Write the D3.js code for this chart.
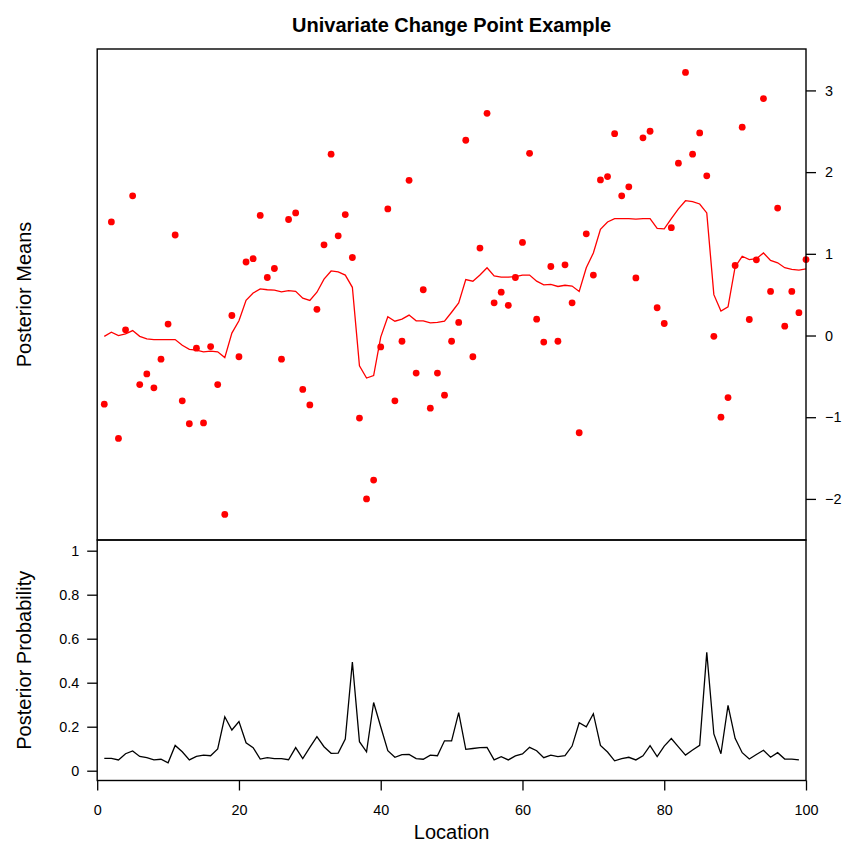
<!DOCTYPE html>
<html>
<head>
<meta charset="utf-8">
<script src="https://cdn.jsdelivr.net/npm/d3@7"></script>
<style>
    body { margin: 0; background: #fff; }
    text { font-family: "Liberation Sans", Arial, Helvetica, sans-serif; fill: #000; }
</style>
</head>
<body>
<svg id="chart" width="855" height="855"></svg>
<script>
'use strict';

// Observed values, one per location 1..100
const observed = [
    -0.84, 1.39, -1.26, 0.07, 1.71, -0.60, -0.47, -0.64, -0.29, 0.14,
    1.23, -0.80, -1.08, -0.155, -1.07, -0.135, -0.60, -2.19, 0.245, -0.26,
    0.90, 0.94, 1.47, 0.71, 0.82, -0.29, 1.42, 1.50, -0.66, -0.85,
    0.32, 1.11, 2.22, 1.22, 1.48, 0.955, -1.01, -2.00, -1.77, -0.14,
    1.55, -0.80, -0.07, 1.90, -0.46, 0.56, -0.89, -0.46, -0.73, -0.07,
    0.16, 2.39, -0.26, 1.07, 2.72, 0.40, 0.53, 0.37, 0.71, 1.14,
    2.23, 0.20, -0.08, 0.845, -0.07, 0.865, 0.40, -1.19, 1.245, 0.74,
    1.905, 1.945, 2.47, 1.71, 1.82, 0.705, 2.42, 2.50, 0.34, 0.147,
    1.32, 2.11, 3.22, 2.22, 2.48, 1.955, -0.01, -1.00, -0.76, 0.857,
    2.55, 0.196, 0.926, 2.90, 0.54, 1.56, 0.114, 0.54, 0.28, 0.93
];

// Posterior means, one per location 1..100
const postMeans = [
    -0.01, 0.04, 0.00, 0.02, 0.06, -0.01, -0.04, -0.05, -0.05, -0.05,
    -0.05, -0.12, -0.17, -0.18, -0.20, -0.19, -0.20, -0.27, 0.03, 0.18,
    0.43, 0.52, 0.57, 0.56, 0.555, 0.534, 0.55, 0.54, 0.457, 0.43,
    0.53, 0.69, 0.79, 0.78, 0.74, 0.59, -0.37, -0.52, -0.49, -0.02,
    0.23, 0.175, 0.20, 0.25, 0.18, 0.18, 0.155, 0.16, 0.175, 0.285,
    0.40, 0.685, 0.665, 0.74, 0.83, 0.73, 0.715, 0.715, 0.72, 0.74,
    0.74, 0.665, 0.62, 0.625, 0.60, 0.615, 0.605, 0.54, 0.83, 1.01,
    1.30, 1.39, 1.43, 1.43, 1.43, 1.425, 1.43, 1.43, 1.31, 1.305,
    1.43, 1.55, 1.65, 1.64, 1.61, 1.50, 0.50, 0.30, 0.35, 0.84,
    0.97, 0.93, 0.94, 1.01, 0.92, 0.89, 0.83, 0.81, 0.80, 0.815
];

// Posterior probability of a change, locations 1..99
const postProbs = [
    0.056, 0.056, 0.049, 0.077, 0.090, 0.065, 0.059, 0.049, 0.052, 0.036,
    0.115, 0.086, 0.049, 0.065, 0.071, 0.068, 0.099, 0.245, 0.185, 0.223,
    0.127, 0.105, 0.053, 0.059, 0.055, 0.055, 0.050, 0.105, 0.055, 0.106,
    0.155, 0.109, 0.079, 0.080, 0.144, 0.494, 0.132, 0.086, 0.310, 0.200,
    0.091, 0.061, 0.073, 0.074, 0.055, 0.052, 0.071, 0.068, 0.136, 0.136,
    0.264, 0.097, 0.101, 0.105, 0.106, 0.049, 0.064, 0.049, 0.067, 0.076,
    0.106, 0.091, 0.059, 0.071, 0.064, 0.068, 0.112, 0.218, 0.199, 0.259,
    0.115, 0.085, 0.045, 0.055, 0.061, 0.049, 0.068, 0.114, 0.064, 0.112,
    0.146, 0.108, 0.071, 0.094, 0.115, 0.538, 0.167, 0.077, 0.297, 0.147,
    0.082, 0.053, 0.074, 0.093, 0.061, 0.082, 0.053, 0.053, 0.049
];

// Tick values
const meanTicks = [-2, -1, 0, 1, 2, 3];
const probTicks = [0, 0.2, 0.4, 0.6, 0.8, 1];
const probTickLabels = ['0', '0.2', '0.4', '0.6', '0.8', '1'];
const locTicks = [0, 20, 40, 60, 80, 100];

(function () {

    const svg = d3.select('#chart');

    // Panel geometry
    const left = 97.2, right = 806;
    const topY0 = 49, topY1 = 540;
    const botY0 = 540, botY1 = 780.5;

    // Scales
    const scX = d3.scaleLinear().domain([0, 100]).range([left, right]);
    const scMean = d3.scaleLinear().domain([-2.503, 3.507]).range([topY1, topY0]);
    const scProb = d3.scaleLinear().domain([-0.0445, 1.0486]).range([botY1, botY0]);

    // Title
    svg.append('text')
        .attr('x', 451.6)
        .attr('y', 31.5)
        .attr('text-anchor', 'middle')
        .style('font-size', '20px')
        .style('font-weight', 'bold')
        .text('Univariate Change Point Example');

    // ---- Top panel ----
    const meanLine = d3.line()
        .x((d, i) => scX(i + 1))
        .y((d) => scMean(d));

    svg.append('path')
        .datum(postMeans)
        .attr('d', meanLine)
        .attr('fill', 'none')
        .attr('stroke', '#ff0000')
        .attr('stroke-width', 1.3);

    svg.selectAll('.dot')
        .data(observed)
        .enter()
        .append('circle')
            .attr('class', 'dot')
            .attr('cx', (d, i) => scX(i + 1))
            .attr('cy', (d) => scMean(d))
            .attr('r', 3.4)
            .style('fill', '#ff0000');

    // Right axis
    const rightAxis = svg.append('g')
        .attr('transform', `translate(${right}, 0)`)
        .call(d3.axisRight(scMean)
            .tickValues(meanTicks)
            .tickFormat(d3.format('d'))
            .tickSize(10)
            .tickPadding(9));
    rightAxis.select('.domain').remove();

    svg.append('text')
        .attr('transform', `translate(31, ${(topY0 + topY1) / 2}) rotate(-90)`)
        .attr('text-anchor', 'middle')
        .style('font-size', '20px')
        .text('Posterior Means');

    // ---- Bottom panel ----
    const probLine = d3.line()
        .x((d, i) => scX(i + 1))
        .y((d) => scProb(d));

    svg.append('path')
        .datum(postProbs)
        .attr('d', probLine)
        .attr('fill', 'none')
        .attr('stroke', '#000')
        .attr('stroke-width', 1.3);

    const leftAxis = svg.append('g')
        .attr('transform', `translate(${left}, 0)`)
        .call(d3.axisLeft(scProb)
            .tickValues(probTicks)
            .tickFormat((d, i) => probTickLabels[i])
            .tickSize(10)
            .tickPadding(8));
    leftAxis.select('.domain').remove();

    const bottomAxis = svg.append('g')
        .attr('transform', `translate(0, ${botY1})`)
        .call(d3.axisBottom(scX)
            .tickValues(locTicks)
            .tickSize(10)
            .tickPadding(14));
    bottomAxis.select('.domain').remove();

    svg.selectAll('.tick text')
        .style('font-size', '14.4px')
        .style('font-family', '"Liberation Sans", Arial, Helvetica, sans-serif');
    svg.selectAll('.tick line')
        .attr('stroke', '#000')
        .attr('stroke-width', 1.3);

    svg.append('text')
        .attr('transform', `translate(31, ${(botY0 + botY1) / 2}) rotate(-90)`)
        .attr('text-anchor', 'middle')
        .style('font-size', '20px')
        .text('Posterior Probability');

    svg.append('text')
        .attr('x', (left + right) / 2)
        .attr('y', 839)
        .attr('text-anchor', 'middle')
        .style('font-size', '20px')
        .text('Location');

    // Panel boxes
    [[topY0, topY1], [botY0, botY1]].forEach(([y0, y1]) => {
        svg.append('rect')
            .attr('x', left)
            .attr('y', y0)
            .attr('width', right - left)
            .attr('height', y1 - y0)
            .attr('fill', 'none')
            .attr('stroke', '#000')
            .attr('stroke-width', 1.4);
    });

})();
</script>
</body>
</html>
